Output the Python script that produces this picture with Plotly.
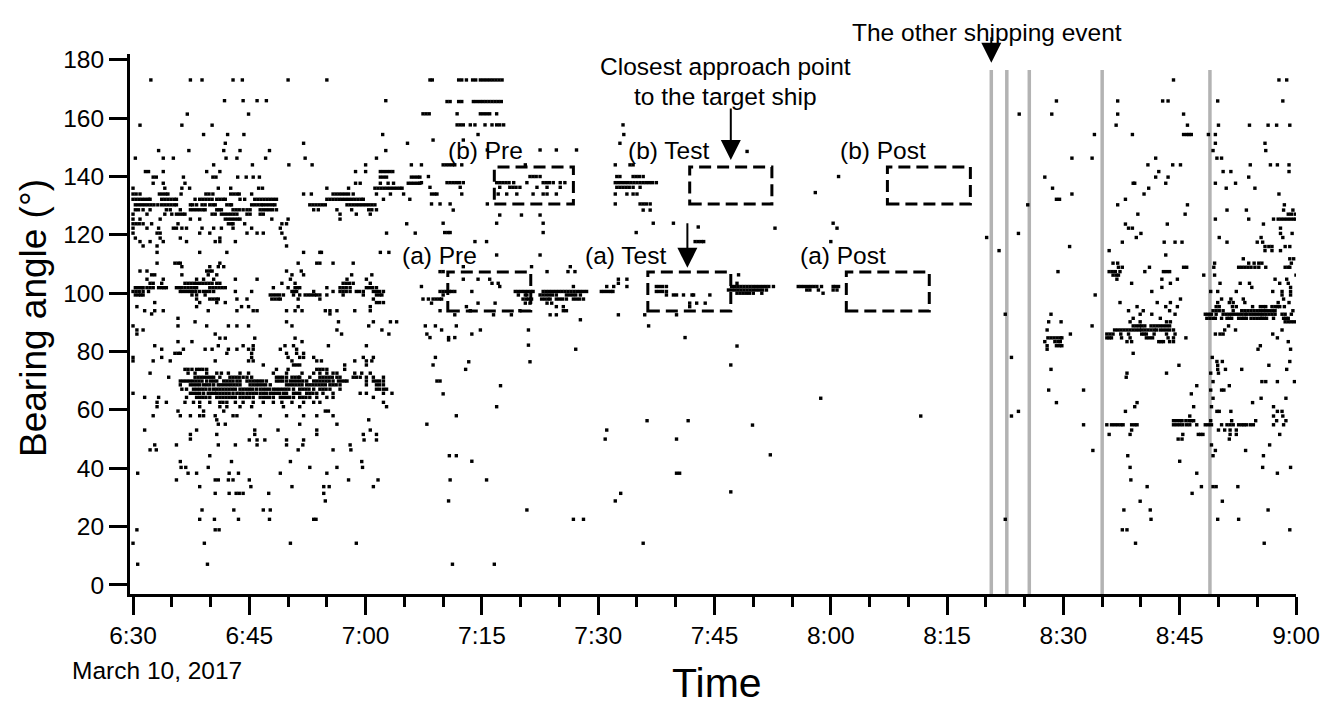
import plotly.graph_objects as go

# bearing detections, minutes after 6:30 grouped by bearing angle (deg)
rows_0630 = [
    (173.1, [2.3, 7.4, 8.9, 12.9, 14.1, 20.0, 25.0]),
    (166.0, [11.8, 14.2, 16.0, 17.2, 32.6]),
    (161.4, [7.0, 14.9]),
    (157.6, [0.9, 6.3, 10.2]),
    (154.4, [9.1, 12.2, 14.3, 32.2]),
    (151.4, [11.9, 22.0, 35.4]),
    (148.9, [3.3, 7.2, 11.7, 13.8, 17.6, 32.6]),
    (146.3, [0.3, 3.9, 5.2, 12.0, 13.4, 17.1, 22.2, 31.4]),
    (144.0, [10.4, 15.4, 20.1, 23.1, 30.0, 35.9]),
    (141.7, [1.6, 2.0, 3.9, 9.5, 11.2, 28.7, 30.0, 31.9, 32.3, 32.7, 33.1, 33.5]),
    (139.8, [2.6, 3.0, 6.5, 10.3, 10.7, 13.5, 14.6, 15.5, 16.3, 31.9, 32.3, 32.7, 35.9, 36.3, 36.7, 37.0]),
    (137.7, [2.6, 3.9, 6.7, 28.7, 29.3, 31.9, 32.9, 33.6, 35.5, 35.9, 36.3, 36.7, 37.0]),
    (136.0, [0.0, 4.1, 6.3, 7.3, 11.0, 12.6, 16.2, 16.7, 25.0, 27.8, 31.2, 31.6, 32.0, 32.4, 32.8,
             33.2, 33.6, 34.0, 34.4, 34.7]),
    (134.0, [0.0, 0.4, 0.9, 3.4, 3.8, 4.2, 4.5, 6.2, 9.4, 9.8, 10.3, 12.6, 13.0, 13.4, 13.7, 15.3,
             22.0, 23.0, 25.8, 26.2, 26.6, 27.0, 27.4, 27.8, 28.4, 31.4, 33.2, 34.9]),
    (132.2, [0.0, 0.4, 0.8, 1.2, 1.6, 2.0, 2.2, 3.7, 4.1, 4.5, 4.9, 5.3, 5.6, 8.0, 8.6, 9.0, 9.4,
             9.8, 10.2, 10.8, 11.2, 11.6, 11.9, 13.8, 14.4, 15.7, 16.1, 16.5, 16.9, 17.3, 17.7,
             18.1, 18.5, 25.0, 25.4, 25.8, 26.2, 26.6, 27.0, 27.4, 27.8, 28.2, 28.6, 29.0, 29.4,
             29.7, 32.3, 35.7]),
    (130.3, [0.3, 0.7, 1.1, 1.5, 1.9, 2.3, 2.7, 3.2, 3.7, 4.1, 4.5, 4.9, 5.3, 5.6, 7.4, 7.7, 8.2,
             8.9, 9.3, 9.9, 10.3, 10.6, 12.1, 12.5, 12.7, 15.3, 15.7, 16.1, 16.5, 16.8, 17.2, 17.6,
             18.0, 18.3, 22.8, 23.2, 23.6, 24.0, 24.4, 24.8, 27.6, 28.0, 28.4, 28.8, 29.2, 29.6,
             30.0, 30.4, 30.8, 31.2]),
    (128.6, [0.3, 0.7, 1.3, 2.2, 4.3, 4.8, 6.1, 7.4, 7.8, 8.2, 8.6, 9.0, 9.3, 10.8, 11.1, 11.4,
             12.9, 13.3, 13.7, 14.2, 14.7, 15.1, 16.4, 16.8, 17.2, 17.6, 18.0, 18.5, 23.3, 23.9,
             26.3, 28.2, 30.4, 30.8, 31.4]),
    (127.1, [0.0, 1.8, 4.1, 5.0, 5.6, 6.0, 6.4, 6.7, 10.2, 10.6, 11.4, 11.8, 12.2, 12.6, 13.0,
             13.4, 14.7, 15.1, 16.4, 16.8, 26.7, 28.8, 30.6]),
    (125.4, [0.0, 0.9, 3.5, 7.4, 8.6, 11.9, 12.3, 12.7, 13.1, 13.5, 13.8, 17.9, 20.0, 26.7]),
    (123.8, [0.0, 0.4, 0.8, 1.3, 2.4, 5.8, 12.3, 12.7, 12.9, 14.4, 19.2, 19.8, 35.3]),
    (122.3, [0.0, 1.8, 3.3, 5.2, 5.6, 6.3, 6.9, 8.9, 10.4, 11.4, 12.9, 15.3, 19.0]),
    (120.6, [0.0, 3.1, 3.5, 8.6, 9.9, 14.7, 16.0, 16.8, 19.2, 32.7, 36.4]),
    (118.9, [0.3, 3.5, 6.1, 11.2, 19.6]),
    (117.7, [0.9, 2.2, 3.9, 6.9, 10.6, 11.2, 13.2]),
    (116.2, [1.3, 3.1, 19.8]),
    (114.0, [3.1, 8.6, 12.1, 22.0, 24.1, 24.3, 31.9, 33.0]),
    (110.3, [3.1, 5.4, 5.8, 6.1, 11.2, 21.3, 23.7, 24.1, 25.8, 28.4]),
    (109.1, [6.3, 9.9, 11.0, 11.7]),
    (107.6, [0.9, 1.8, 9.5, 9.9, 10.2, 19.8, 21.7]),
    (106.3, [2.4, 2.8, 6.3, 9.7, 10.8, 20.5, 22.0, 28.2, 30.8]),
    (104.8, [1.8, 3.9, 8.2, 9.1, 10.4, 13.2, 16.0, 20.3, 27.6, 30.1]),
    (103.4, [2.2, 2.6, 3.7, 6.7, 7.1, 7.5, 7.9, 8.2, 8.6, 9.0, 9.4, 9.8, 10.2, 10.8, 11.2, 19.2,
             20.9, 27.1, 27.5, 27.9, 28.4, 30.6]),
    (101.9, [0.3, 0.7, 1.1, 1.3, 1.8, 2.2, 2.6, 3.3, 3.7, 4.0, 4.3, 5.6, 6.0, 6.3, 6.7, 7.1, 7.5,
             7.9, 8.2, 9.9, 10.3, 10.7, 11.1, 11.5, 11.9, 18.1, 20.0, 20.9, 21.2, 21.5, 25.0, 26.7,
             27.1, 27.5, 28.0, 30.1, 30.5, 30.9, 31.4]),
    (100.6, [0.0, 0.4, 0.8, 1.3, 2.0, 6.1, 6.5, 6.9, 7.3, 7.7, 8.1, 8.6, 9.1, 9.5, 9.9, 10.4, 13.2,
             15.3, 20.5, 20.8, 21.1, 23.3, 25.8, 26.7, 27.1, 27.5, 28.0, 28.8, 29.2, 29.7, 31.0,
             31.4, 31.8, 32.3]),
    (99.4, [0.3, 0.7, 1.0, 1.3, 7.6, 8.2, 9.3, 17.7, 18.1, 18.5, 18.9, 19.4, 20.7, 21.5, 22.2,
            22.6, 23.0, 23.4, 23.7, 24.1, 25.0, 27.1, 29.7, 31.4, 31.8, 32.1]),
    (98.0, [8.2, 9.9, 10.3, 10.7, 11.0, 13.4, 14.7, 17.9, 18.3, 18.7, 19.0, 21.3, 24.1, 31.0]),
    (96.8, [2.8, 8.6, 10.8, 11.9, 31.4, 31.8, 32.3]),
    (95.4, [0.5, 8.2, 14.0, 14.9, 21.3, 30.6]),
    (94.0, [1.5, 2.8, 3.9, 9.7, 13.4, 15.5, 16.0, 19.8, 20.9, 21.8, 24.8, 25.4, 26.3, 28.6, 30.6]),
    (92.9, [2.4, 25.4]),
    (91.4, [5.8]),
    (90.2, [8.0, 19.8, 26.5, 31.0, 33.2, 34.0]),
    (88.8, [0.0, 5.8, 9.5, 12.3, 13.4, 14.9, 20.5, 30.4]),
    (87.4, [0.5, 1.3, 26.3, 32.1]),
    (86.0, [0.5, 10.6, 26.9, 33.0]),
    (84.6, [11.2, 11.9, 15.7, 20.9]),
    (83.4, [5.8, 7.6, 21.8]),
    (82.0, [2.8, 11.0, 14.2, 15.5, 19.6, 20.7, 25.2, 30.1]),
    (80.8, [3.7, 6.5, 9.3, 10.2, 12.3, 13.4, 14.9, 15.5, 19.0, 21.1]),
    (79.4, [5.4, 5.8, 6.1, 12.1, 15.3, 19.8, 21.1, 22.0]),
    (78.0, [0.0, 3.7, 15.3, 20.0, 21.5, 22.0, 23.3, 29.7, 31.0]),
    (76.8, [0.0, 2.6, 4.8, 10.6, 14.9, 15.5, 20.5, 23.7, 24.3, 28.6, 30.1, 30.8]),
    (75.4, [16.8, 20.7, 21.1, 21.5, 27.3, 30.1]),
    (73.9, [6.7, 7.1, 7.6, 8.2, 8.6, 9.0, 9.5, 18.5, 20.0, 23.7, 24.1, 24.5, 25.0, 27.3]),
    (72.6, [2.2, 7.1, 8.0, 9.5, 10.8, 11.4, 12.3, 13.8, 14.9, 18.1, 19.8, 21.8, 23.3, 24.1, 25.0,
            25.8, 26.3, 28.6, 29.5, 30.6]),
    (71.2, [4.6, 8.0, 8.4, 8.8, 9.2, 9.6, 10.0, 10.4, 11.2, 12.5, 12.9, 13.3, 13.7, 14.2, 14.7,
            15.3, 18.5, 18.9, 19.3, 19.8, 20.5, 20.9, 21.3, 21.5, 22.8, 24.1, 24.5, 24.9, 25.3,
            25.7, 26.3, 26.7, 28.4, 28.8, 29.3, 30.1, 31.0, 32.3]),
    (69.9, [6.1, 6.5, 6.9, 7.3, 7.7, 8.1, 8.5, 8.9, 9.5, 10.0, 10.4, 10.8, 11.7, 12.1, 12.5, 12.9,
            13.4, 13.8, 14.7, 15.1, 15.5, 15.9, 16.3, 16.7, 17.2, 18.5, 18.9, 19.3, 19.8, 20.3,
            20.7, 21.1, 21.5, 21.9, 22.4, 23.3, 23.7, 24.1, 24.5, 24.9, 25.3, 25.8, 26.5, 26.9,
            27.3, 27.6, 30.1, 31.0, 31.4, 31.8, 32.3]),
    (68.6, [6.1, 7.4, 7.8, 8.2, 8.6, 9.1, 9.5, 9.9, 10.4, 11.0, 11.4, 11.8, 12.2, 12.6, 13.0, 13.4,
            13.8, 15.1, 15.5, 15.9, 16.3, 16.7, 17.1, 17.7, 19.8, 20.2, 20.6, 21.0, 21.4, 21.8,
            22.4, 22.8, 23.2, 23.6, 24.0, 24.4, 24.8, 25.4, 25.8, 26.2, 26.7, 30.1, 31.4, 31.8,
            32.3]),
    (67.1, [6.3, 6.9, 7.8, 8.2, 8.6, 9.0, 9.4, 9.9, 10.4, 10.8, 11.2, 11.6, 12.0, 12.4, 12.8, 13.2,
            13.8, 14.2, 14.6, 15.0, 15.4, 15.9, 16.4, 16.8, 17.2, 17.6, 18.1, 18.5, 18.9, 19.3,
            19.7, 20.1, 20.7, 21.5, 21.9, 22.3, 22.7, 23.3, 24.1, 24.5, 24.9, 25.4, 26.7, 31.4,
            31.8, 32.3, 32.7]),
    (65.7, [0.0, 7.4, 7.8, 8.2, 8.6, 9.1, 9.7, 10.1, 10.5, 10.8, 11.2, 11.6, 12.0, 12.4, 12.9,
            13.4, 13.8, 14.2, 14.7, 15.1, 15.5, 15.9, 16.4, 16.8, 17.2, 17.7, 18.1, 18.5, 18.9,
            19.4, 19.8, 20.7, 21.1, 21.5, 22.4, 22.8, 23.2, 23.7, 24.5, 25.8, 29.3, 30.1, 32.3,
            33.4]),
    (64.3, [1.5, 3.3, 6.9, 8.2, 8.6, 9.0, 9.4, 9.9, 10.8, 11.2, 11.6, 12.0, 12.4, 12.8, 13.2, 13.8,
            14.2, 14.6, 15.0, 15.5, 16.4, 16.8, 17.2, 17.6, 18.1, 19.0, 19.4, 19.8, 20.2, 20.7,
            21.5, 21.9, 22.3, 22.8, 23.7, 25.0, 25.8, 31.0]),
    (62.6, [3.1, 4.3, 6.7, 7.8, 8.6, 9.9, 11.2, 11.6, 12.1, 13.2, 14.2, 15.5, 16.8, 18.1, 19.2,
            20.5, 22.0, 23.3, 24.1, 32.3]),
    (61.1, [3.1, 8.6, 11.2, 12.1, 13.8, 15.3, 19.4, 21.5, 32.7]),
    (59.6, [5.8, 9.1, 11.7, 24.8, 25.2]),
    (58.0, [2.6, 6.1, 7.4, 8.6, 9.1, 10.6, 12.9, 13.4, 16.4, 19.8, 22.0, 23.7, 25.8]),
    (56.6, [10.8, 30.4]),
    (55.1, [11.0, 11.9, 21.5, 26.3]),
    (53.1, [1.5, 8.2, 15.7, 18.7, 23.7, 30.6]),
    (51.6, [7.4, 10.8, 15.7, 23.7, 29.7, 31.4]),
    (50.0, [7.4]),
    (49.7, [15.0, 16.0, 17.0, 19.8, 22.0, 29.8, 31.4]),
    (48.0, [2.8, 5.6, 11.0, 13.2, 16.0, 19.8, 21.9, 28.0]),
    (46.3, [2.2, 3.0, 21.3, 25.8, 28.1]),
    (44.3, [9.9]),
    (42.3, [6.1, 12.7, 20.3, 29.5]),
    (40.3, [6.2, 6.8, 9.7, 22.8, 26.3, 29.6]),
    (38.3, [0.6, 7.1, 8.2, 12.4, 13.6, 19.0, 25.0]),
    (36.0, [5.6, 10.6, 11.0, 12.3, 12.9, 15.0, 27.8, 31.6]),
    (33.7, [8.6, 15.2, 20.5, 24.6, 25.3, 31.0]),
    (31.4, [10.6, 12.4, 13.3, 13.7, 14.2, 17.5, 24.6]),
    (28.8, [24.8]),
    (25.7, [8.9, 13.0, 16.8, 17.7]),
    (22.5, [8.6, 10.5, 13.6, 17.6, 23.3, 23.6]),
    (18.9, [0.5, 10.6, 11.1]),
    (14.3, [0.0, 9.2, 20.3, 28.8]),
    (7.1, [0.6, 9.6]),
]

rows_0707 = [
    (173.1, [38.3, 38.6, 42.0, 42.4, 43.0, 43.8, 44.2, 44.8, 45.2, 45.6, 46.0, 46.4, 46.8, 47.2, 47.6]),
    (165.7, [40.5, 40.9, 42.0, 42.4, 43.9, 44.3, 44.7, 45.1, 45.5, 45.9, 46.3, 46.7, 47.1, 47.5]),
    (161.5, [37.4, 37.8, 38.2, 41.8, 44.8, 45.2, 45.6, 46.0, 46.9]),
    (157.7, [41.8, 42.2, 42.6, 43.5, 44.1, 45.4, 46.3, 46.9, 47.3, 47.8, 63.2]),
    (154.4, [44.5, 63.3]),
    (152.5, [38.7, 42.6]),
    (151.4, [62.8]),
    (149.1, [45.7, 52.5, 54.6, 57.2]),
    (144.0, [37.2, 40.0, 40.4, 40.8, 41.2, 41.5, 42.4, 50.6, 62.2, 64.1, 64.5]),
    (140.0, [38.1, 51.2, 51.6, 52.0, 52.5, 62.4, 62.8, 64.5, 64.9, 65.3, 65.8]),
    (137.9, [37.2, 40.5, 40.9, 41.3, 41.7, 42.1, 42.6, 46.9, 47.3, 47.7, 48.1, 48.5, 49.1, 50.8,
             52.9, 53.3, 53.7, 54.2, 55.1, 55.7, 62.2, 62.6, 63.0, 63.4, 63.8, 64.2, 64.6, 65.0,
             65.4, 65.8, 66.2, 66.6, 67.0, 67.5]),
    (136.3, [38.3, 42.2, 47.3, 48.6, 49.0, 49.4, 49.9, 52.1, 53.4, 55.1, 62.4, 62.8, 63.2, 63.6,
             64.0, 64.5, 65.4]),
    (134.0, [38.5, 38.9, 39.2, 42.4, 47.1, 48.2, 49.5, 51.6, 52.9, 53.4, 54.6, 62.2, 63.7, 64.5, 65.0]),
    (130.6, [38.5, 39.6, 40.9, 45.7, 62.2, 65.4, 65.8, 66.2, 66.7]),
    (128.5, [41.3, 65.8, 66.7]),
    (126.8, [47.3, 50.1, 52.5]),
    (124.0, [40.0, 46.9, 52.9, 67.1, 69.7]),
    (122.7, [72.9]),
    (120.8, [40.2, 40.6, 40.9, 52.9, 64.9]),
    (117.7, [44.1, 45.6, 72.5, 72.9, 73.3, 73.6]),
    (113.1, [46.9, 52.5]),
    (109.1, [42.6, 51.4, 56.4]),
    (107.4, [39.6, 40.0, 53.4, 56.1, 57.0]),
    (104.8, [42.6, 44.5, 46.0, 62.6, 63.7]),
    (103.4, [46.3, 47.1, 62.6]),
    (102.3, [37.2, 47.3, 56.8, 61.1, 62.0, 63.7, 67.5, 67.9, 68.3, 68.8]),
    (100.6, [39.6, 40.0, 40.4, 40.8, 41.1, 41.5, 43.7, 49.3, 49.7, 50.1, 50.5, 50.9, 51.3, 51.6,
             52.9, 53.3, 53.7, 54.1, 54.5, 54.9, 55.3, 55.7, 56.1, 56.5, 56.9, 57.3, 57.7, 58.1,
             58.5, 60.4, 60.8, 61.2, 61.6, 61.9, 67.5, 67.9, 68.3, 68.8]),
    (99.4, [40.0, 49.7, 50.6, 50.8, 52.5, 52.9, 53.3, 53.7, 54.1, 54.6, 55.9, 56.3, 56.7, 57.1,
            57.7, 68.8, 69.7, 70.1, 71.0, 72.1, 72.3, 74.4]),
    (98.0, [37.4, 38.1, 38.7, 39.1, 39.5, 39.8, 50.3, 50.7, 51.0, 51.4, 52.7, 53.1, 53.5, 53.8,
            54.6, 55.0, 55.4, 55.9, 56.8, 57.2, 57.6, 58.1]),
    (96.6, [38.5, 44.5, 46.7, 50.6, 51.2, 53.4, 54.0, 71.8, 72.7, 73.8]),
    (95.4, [43.0, 54.6, 55.5, 71.8]),
    (94.0, [39.6, 43.5, 49.9, 55.5, 55.9]),
    (92.6, [41.5, 46.5, 48.8, 53.8, 54.6, 62.6, 66.0, 70.1]),
    (90.9, [57.7]),
    (88.8, [37.7, 39.0, 41.7, 66.5]),
    (87.4, [39.8, 44.8, 51.0]),
    (86.0, [37.9, 43.7]),
    (84.8, [38.3, 40.7, 41.5, 71.2]),
    (84.0, [40.7]),
    (82.2, [51.0]),
    (80.8, [57.1]),
    (78.0, [39.0]),
    (76.5, [43.3, 51.2]),
    (75.4, [38.7]),
    (73.9, [42.9]),
    (69.9, [39.2, 39.6]),
    (68.3, [47.4]),
    (65.5, [40.0]),
    (61.1, [46.9]),
    (58.0, [41.7]),
    (56.3, [66.3, 71.6]),
    (55.1, [37.9]),
    (53.1, [61.1]),
    (50.0, [60.9, 70.1]),
    (44.3, [40.8, 41.7]),
    (42.4, [43.7]),
    (38.3, [70.1, 70.5]),
    (36.0, [40.9, 45.6]),
    (31.4, [62.9]),
    (28.8, [40.7, 62.2]),
    (25.7, [50.8]),
    (22.5, [56.8, 58.1]),
    (14.3, [65.8]),
    (7.1, [41.2, 46.6]),
]

rows_0746 = [
    (148.6, [79.2]),
    (140.0, [91.0]),
    (134.5, [88.0]),
    (124.0, [90.3]),
    (122.3, [82.8, 90.8]),
    (117.7, [90.0]),
    (106.3, [78.1]),
    (103.4, [77.9]),
    (102.3, [77.2, 77.6, 78.0, 78.4, 78.8, 79.2, 79.6, 80.0, 80.4, 80.8, 81.2, 81.6, 82.0, 82.6,
             85.8, 86.2, 86.6, 87.0, 87.4, 87.8, 88.2, 88.8, 90.3, 90.6, 91.0]),
    (101.1, [76.8, 77.2, 77.6, 78.0, 78.4, 78.8, 79.2, 79.6, 80.0, 80.4, 80.8, 81.2, 81.7, 86.9,
             87.3, 88.4, 90.3, 90.8]),
    (100.0, [77.9, 78.3, 78.7, 79.1, 79.5, 80.0, 81.1, 89.0]),
    (81.9, [77.9]),
    (75.4, [77.1]),
    (64.0, [88.7]),
    (57.9, [101.6]),
    (54.8, [79.9]),
    (44.6, [82.2]),
    (31.9, [77.1]),
]

rows_0817 = [
    (173.1, [134.2, 147.8, 148.8]),
    (165.9, [119.1, 127.0, 132.8, 133.5, 139.9, 148.3]),
    (161.4, [114.3, 118.5, 127.0, 135.5]),
    (157.6, [126.8, 136.0, 140.0, 144.0, 146.4, 147.5, 149.2]),
    (154.4, [124.0, 128.9, 135.5, 135.9, 136.2, 136.5, 138.7, 139.6]),
    (151.4, [139.6, 146.0]),
    (148.9, [139.3, 146.1]),
    (146.3, [121.1, 123.7, 131.9, 139.8, 140.4]),
    (144.0, [130.9, 134.1, 135.1, 144.1, 146.7, 147.6, 149.1]),
    (141.7, [132.3, 140.6, 141.6, 149.1]),
    (139.8, [117.6, 131.9, 133.5, 143.9]),
    (137.7, [129.0, 129.2, 133.2, 139.6, 142.2]),
    (136.0, [118.6, 131.0, 141.0, 144.7]),
    (134.0, [121.1, 130.4, 147.8]),
    (132.2, [119.1, 119.5, 128.0]),
    (130.3, [115.4, 127.0, 136.0, 148.5]),
    (128.5, [141.1, 143.6, 148.4, 149.6]),
    (127.1, [129.6, 135.7, 149.0, 149.4, 149.9]),
    (125.4, [139.6, 143.9, 147.1, 147.7, 148.1, 148.5, 148.9, 149.3, 149.7, 150.0]),
    (123.7, [128.0, 133.4, 145.8]),
    (122.3, [128.4, 128.9, 148.0]),
    (120.5, [114.2, 130.0, 148.0, 149.5]),
    (119.1, [110.1, 129.4, 140.1, 145.5, 148.3]),
    (117.5, [127.6, 133.0, 134.4, 135.3, 141.1, 145.0, 145.7]),
    (116.0, [120.8, 146.0, 146.5, 146.9, 148.6, 149.2]),
    (114.6, [111.7, 125.9, 146.0, 146.9, 148.0]),
    (113.1, [133.2]),
    (111.8, [143.2, 149.2, 149.7]),
    (110.3, [126.4, 127.0, 139.5, 143.9, 144.6, 145.2, 145.6, 149.4]),
    (108.9, [127.1, 127.6, 131.1, 135.5, 135.9, 139.4, 142.6, 143.0, 143.4, 143.8, 144.2, 144.7,
             145.2, 146.1, 148.6, 149.0, 149.2]),
    (107.4, [119.3, 125.9, 126.3, 126.7, 127.3, 130.5, 132.9, 133.3, 133.7]),
    (106.2, [126.4, 126.8, 127.1, 138.1, 139.5, 150.0]),
    (104.8, [126.9, 132.7, 134.7, 147.3, 148.8]),
    (103.4, [128.8, 133.8, 140.2, 142.8, 144.0, 147.9, 149.0]),
    (102.0, [132.7, 144.3, 149.3]),
    (100.6, [131.4, 139.0, 139.9, 142.3, 147.0, 148.2, 149.3]),
    (99.4, [124.1, 148.2, 149.3]),
    (98.0, [135.1, 140.4, 141.6, 143.2, 148.4]),
    (96.8, [127.3, 132.1, 133.8, 139.9, 141.4, 141.9, 143.4, 147.7, 149.1]),
    (95.4, [129.5, 133.2, 134.7, 139.7, 140.1, 141.8, 142.3, 144.4, 145.4, 145.8, 146.1, 146.9,
            147.3, 147.6, 147.9, 148.5]),
    (94.0, [128.4, 130.3, 133.7, 139.3, 139.7, 140.1, 140.6, 141.9, 143.0, 143.4, 143.8, 144.2,
            144.6, 145.0, 145.4, 145.8, 146.2, 146.6, 147.0, 147.3, 149.6]),
    (92.8, [112.5, 118.4, 129.9, 131.4, 134.4, 138.3, 138.7, 139.1, 139.7, 140.6, 141.0, 141.4,
            141.8, 142.2, 142.6, 143.0, 143.4, 143.7, 144.1, 144.5, 144.9, 145.3, 145.7, 146.1,
            146.5, 146.9, 147.3, 148.2, 148.6, 149.4]),
    (91.4, [129.0, 132.5, 138.5, 138.9, 139.3, 139.6, 140.4, 141.1, 141.4, 141.7, 142.6, 143.0,
            143.3, 143.6, 144.2, 144.6, 145.0, 145.4, 145.6, 145.9, 146.2, 147.1, 148.4, 148.7,
            149.0]),
    (90.2, [118.1, 119.7, 128.6, 129.9, 133.3, 133.8, 148.6, 149.0, 149.4, 149.8]),
    (88.8, [123.7, 129.0, 129.4, 129.8, 130.1, 130.5, 131.3, 131.7, 132.1, 132.5, 132.9, 133.3,
            133.7, 141.3]),
    (87.4, [117.9, 126.6, 127.0, 127.4, 127.8, 128.2, 128.6, 129.0, 129.4, 129.8, 130.1, 130.5,
            130.9, 131.3, 131.7, 132.0, 132.5, 132.9, 133.3, 133.7, 134.2, 140.8, 142.2, 148.2]),
    (86.0, [120.9, 125.6, 126.0, 126.4, 127.4, 128.4, 130.1, 130.4, 130.7, 131.7, 133.3, 134.4,
            139.6, 140.2, 140.6, 147.0]),
    (84.7, [118.0, 118.4, 118.8, 119.2, 119.6, 119.8, 125.6, 125.9, 126.2, 127.5, 128.6, 130.7,
            131.1, 131.5, 133.5, 134.2, 135.8, 147.6]),
    (83.4, [117.6, 118.9, 119.3, 119.6, 128.2, 128.8, 132.3, 132.6, 132.9, 133.7, 134.2, 149.0]),
    (82.0, [117.9, 119.1, 119.5, 119.8, 145.4]),
    (80.8, [117.9, 145.1, 149.3]),
    (79.4, [129.0]),
    (78.0, [113.3, 139.2]),
    (76.6, [139.8, 140.5, 149.2]),
    (75.3, [134.9, 139.9, 146.5]),
    (73.9, [118.4, 139.9, 140.9, 143.0, 148.8]),
    (72.6, [128.2, 133.3, 139.0, 140.0]),
    (71.2, [128.1]),
    (69.7, [139.3, 145.6, 146.1, 147.6, 149.8]),
    (68.3, [137.2, 141.4]),
    (66.8, [118.1, 122.6, 139.0, 140.4, 140.7]),
    (65.5, [136.5]),
    (64.0, [139.3, 145.5, 148.7]),
    (62.5, [119.1, 129.5, 144.4]),
    (61.1, [129.2, 136.8, 139.1, 147.1]),
    (59.5, [114.2, 128.0, 139.8, 140.1, 141.6, 147.6, 148.2]),
    (57.9, [113.3, 136.3, 147.1, 148.3]),
    (56.3, [134.2, 134.6, 135.0, 135.3, 135.8, 136.2, 136.5, 136.8, 139.0, 141.7, 144.8, 147.5, 148.7]),
    (54.9, [122.6, 125.6, 126.2, 126.6, 127.0, 127.4, 127.7, 128.8, 129.2, 129.5, 134.2, 134.6,
            135.0, 135.4, 135.9, 136.3, 137.2, 138.3, 138.7, 139.1, 140.4, 141.1, 141.5, 141.9,
            142.6, 143.0, 143.3, 143.6, 144.1, 144.5, 147.1, 148.4]),
    (53.1, [128.8, 140.0, 140.8, 141.5, 142.3]),
    (51.6, [125.9, 128.6, 135.4, 137.4, 137.7, 138.0, 141.5, 142.3, 147.9]),
    (50.0, [134.8, 135.3, 141.4]),
    (48.0, [139.1, 146.6]),
    (46.1, [123.8, 139.6, 143.5]),
    (44.3, [128.3, 139.3, 145.8]),
    (42.4, [135.0]),
    (40.3, [128.6, 145.7, 149.3]),
    (38.3, [137.2, 147.6]),
    (36.0, [128.7]),
    (33.7, [130.8, 137.8, 139.3, 139.7, 142.5]),
    (31.4, [136.6]),
    (28.7, [129.9, 140.5]),
    (25.7, [127.8, 131.2, 146.4]),
    (22.5, [112.5, 131.3, 139.9, 142.6]),
    (18.9, [127.6, 128.2, 149.2]),
    (14.3, [129.3, 145.9]),
]

# other shipping event passages (minutes after 6:30)
other_ship_times = [110.7, 112.7, 115.6, 125.0, 138.9]

# analysis windows: label, label time, t_start, t_end, angle_low, angle_high
windows = [
    ("(b) Pre", 45.4, 46.6, 56.8, 130.6, 143.3),
    ("(b) Test", 69.1, 71.8, 82.4, 130.6, 143.3),
    ("(b) Post", 96.7, 97.3, 108.0, 130.6, 143.3),
    ("(a) Pre", 39.5, 40.6, 51.3, 93.9, 107.3),
    ("(a) Test", 63.5, 66.4, 77.1, 93.9, 107.3),
    ("(a) Post", 91.6, 92.0, 102.7, 93.9, 107.3),
]

tick_vals = [0, 15, 30, 45, 60, 75, 90, 105, 120, 135, 150]
tick_text = ["6:30", "6:45", "7:00", "7:15", "7:30", "7:45", "8:00", "8:15", "8:30", "8:45", "9:00"]

times, angles = [], []
for rows in (rows_0630, rows_0707, rows_0746, rows_0817):
    for ang, ts in rows:
        times += ts
        angles += [ang] * len(ts)

FONT = "Liberation Sans, Arial, sans-serif"
TXT = 24.5

fig = go.Figure()
fig.add_trace(
    go.Scatter(
        x=times,
        y=angles,
        mode="markers",
        marker=dict(symbol="square", size=3.4, color="black", line_width=0),
        hoverinfo="skip",
        showlegend=False,
    )
)

for t in other_ship_times:
    fig.add_shape(type="line", x0=t, x1=t, y0=-3.1, y1=176.5, layer="below",
                  line=dict(color="#b3b3b3", width=3.5))

for label, tl, t0, t1, a0, a1 in windows:
    fig.add_shape(type="rect", x0=t0, x1=t1, y0=a0, y1=a1,
                  line=dict(color="black", width=3, dash="12px,6px"))
    fig.add_annotation(x=tl, y=a1 + 5.6, text=label, showarrow=False,
                       font=dict(size=TXT, color="black", family=FONT))

arrow = dict(showarrow=True, arrowhead=2, arrowsize=2, arrowwidth=2, arrowcolor="black", ax=0, text="")
fig.add_annotation(x=77.1, y=145.7, ay=-53, **arrow)
fig.add_annotation(x=71.5, y=108.7, ay=-46, **arrow)
fig.add_annotation(x=110.7, y=179.0, ay=-27, **arrow)

fig.add_annotation(x=76.4, y=177.6, text="Closest approach point", showarrow=False,
                   font=dict(size=TXT, color="black", family=FONT))
fig.add_annotation(x=76.4, y=167.3, text="to the target ship", showarrow=False,
                   font=dict(size=TXT, color="black", family=FONT))
fig.add_annotation(x=110.2, yref="paper", y=(594 - 17) / 540, text="The other shipping event",
                   showarrow=False, font=dict(size=TXT, color="black", family=FONT))

fig.add_annotation(xref="paper", yref="paper", x=(70 - 130) / 1166, y=(594 - 670) / 540,
                   xanchor="left", yanchor="middle", text="March 10, 2017", showarrow=False,
                   font=dict(size=TXT, color="black", family=FONT))
fig.add_annotation(xref="paper", yref="paper", x=(717 - 130) / 1166, y=(594 - 683) / 540,
                   xanchor="center", yanchor="middle", text="Time", showarrow=False,
                   font=dict(size=41, color="black", family=FONT))
fig.add_annotation(xref="paper", yref="paper", x=(33 - 130) / 1166, y=(594 - 318) / 540,
                   xanchor="center", yanchor="middle", text="Bearing angle (°)", textangle=-90,
                   showarrow=False, font=dict(size=37, color="black", family=FONT))

# page body adds an 8px offset, so the figure is drawn 8px smaller and shifted
fig.update_layout(
    width=1333,
    height=701,
    margin=dict(l=122, r=45, t=46, b=115),
    plot_bgcolor="white",
    paper_bgcolor="white",
    font=dict(family=FONT, size=TXT, color="black"),
    showlegend=False,
)
fig.update_xaxes(
    range=[-0.39, 150],
    tickmode="array",
    tickvals=tick_vals,
    ticktext=tick_text,
    ticks="outside",
    ticklen=18,
    tickwidth=3,
    tickcolor="black",
    showline=True,
    linecolor="black",
    linewidth=3,
    showgrid=False,
    zeroline=False,
    minor=dict(tickmode="linear", tick0=0, dtick=5, ticks="outside", ticklen=10, tickwidth=3,
               tickcolor="black", showgrid=False),
    tickfont=dict(size=TXT),
)
fig.update_yaxes(
    range=[-3.1, 182],
    tickmode="array",
    tickvals=[0, 20, 40, 60, 80, 100, 120, 140, 160, 180],
    ticks="outside",
    ticklen=18,
    tickwidth=3,
    tickcolor="black",
    showline=True,
    linecolor="black",
    linewidth=3,
    showgrid=False,
    zeroline=False,
    tickfont=dict(size=TXT),
)

fig.write_html("out.html")
